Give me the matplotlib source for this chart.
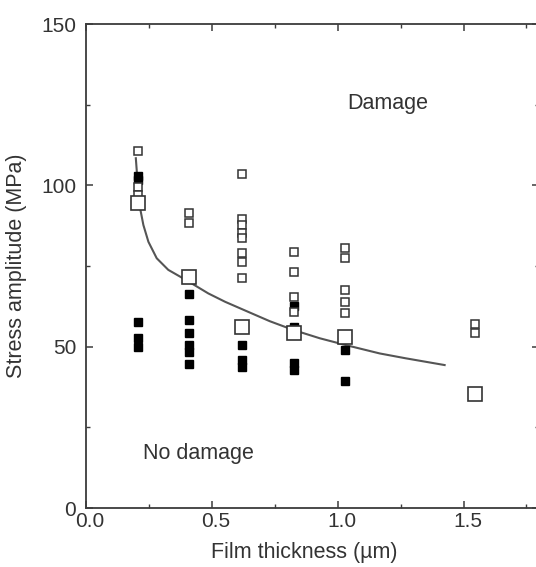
import numpy as np
import matplotlib
matplotlib.use("Agg")
import matplotlib.pyplot as plt
from matplotlib.ticker import MultipleLocator
from matplotlib.transforms import ScaledTranslation

plt.rcParams["font.family"] = ["Liberation Sans", "DejaVu Sans"]

# --- data ---
# large open squares (averages)
avg_x = [0.205, 0.41, 0.62, 0.825, 1.03, 1.545]
avg_y = [94.6, 71.5, 56.2, 54.3, 53.1, 35.2]

# small open squares (damage)
dmg_x = [0.205, 0.205, 0.205,
         0.41, 0.41,
         0.62, 0.62, 0.62, 0.62, 0.62, 0.62, 0.62, 0.62,
         0.825, 0.825, 0.825, 0.825,
         1.03, 1.03, 1.03, 1.03, 1.03,
         1.545, 1.545]
dmg_y = [110.6, 99.5, 97.0,
         91.3, 88.2,
         103.4, 89.6, 87.7, 85.1, 83.6, 78.9, 76.3, 71.2,
         79.2, 73.2, 65.5, 60.6,
         80.5, 77.6, 67.6, 63.7, 60.3,
         57.0, 54.3]

# filled squares (no damage)
ok_x = [0.205, 0.205, 0.205, 0.205, 0.205,
        0.41, 0.41, 0.41, 0.41, 0.41, 0.41,
        0.62, 0.62, 0.62,
        0.825, 0.825, 0.825, 0.825, 0.825,
        1.03, 1.03]
ok_y = [102.9, 101.6, 57.7, 52.6, 49.8,
        66.3, 58.3, 54.3, 50.5, 48.4, 44.6,
        50.5, 46.0, 43.6,
        62.7, 56.2, 54.6, 44.8, 42.8,
        49.0, 39.4]

# boundary curve
curve_x = [0.198, 0.205, 0.209, 0.215, 0.228, 0.248, 0.281, 0.327, 0.374,
           0.42, 0.486, 0.553, 0.659, 0.73, 0.823, 0.929, 1.032, 1.167,
           1.27, 1.425]
curve_y = [108.4, 101.0, 97.0, 92.9, 87.7, 82.5, 77.4, 73.8, 71.7,
           69.6, 66.5, 63.9, 60.3, 57.9, 55.2, 52.6, 50.5, 47.9,
           46.4, 44.3]

TXT = "#333333"
AX = "#3c3c3c"

fig = plt.figure(figsize=(5.36, 5.67), dpi=100)
ax = fig.add_axes([86 / 536, 59 / 567, 453 / 536, 484 / 567])

ax.plot(curve_x, curve_y, "-", color="#555555", linewidth=1.5, zorder=2)
ax.plot(ok_x, ok_y, "s", color="black", markersize=5.5, linestyle="none", zorder=3)
ax.plot(dmg_x, dmg_y, "s", markerfacecolor="white", markeredgecolor="#333333",
        markeredgewidth=1.1, markersize=5.5, linestyle="none", zorder=4)
ax.plot(avg_x, avg_y, "s", markerfacecolor="white", markeredgecolor="#333333",
        markeredgewidth=1.2, markersize=10, linestyle="none", zorder=5)

ax.set_xlim(0, 1.8)
ax.set_ylim(0, 150)
ax.xaxis.set_major_locator(MultipleLocator(0.5))
ax.xaxis.set_minor_locator(MultipleLocator(0.25))
ax.yaxis.set_major_locator(MultipleLocator(50))
ax.yaxis.set_minor_locator(MultipleLocator(25))
ax.xaxis.set_major_formatter(plt.FormatStrFormatter("%.1f"))

ax.tick_params(which="both", direction="in", top=True, right=True,
               colors=AX, labelcolor=TXT, labelsize=15)
ax.tick_params(which="major", length=5, width=1.1)
ax.tick_params(which="minor", length=3, width=1.0)
ax.tick_params(axis="y", pad=7)
ax.tick_params(axis="x", pad=3)
for sp in ax.spines.values():
    sp.set_color(AX)
    sp.set_linewidth(1.3)

# x tick labels sit a little right of their ticks in the reference
shift = ScaledTranslation(4 / 100, 0, fig.dpi_scale_trans)
for lab in ax.get_xticklabels():
    lab.set_transform(lab.get_transform() + shift)

ax.set_xlabel("Film thickness (µm)", fontsize=15.5, color=TXT)
ax.set_ylabel("Stress amplitude (MPa)", fontsize=15.5, color=TXT)
ax.xaxis.set_label_coords(0.481, -0.07)
ax.yaxis.set_label_coords(-0.13, 0.5)

ax.text(1.20, 125.5, "Damage", fontsize=15.5, color=TXT, ha="center", va="center")
ax.text(0.445, 17, "No damage", fontsize=15.5, color=TXT, ha="center", va="center")

fig.savefig("out.png", dpi=100)
